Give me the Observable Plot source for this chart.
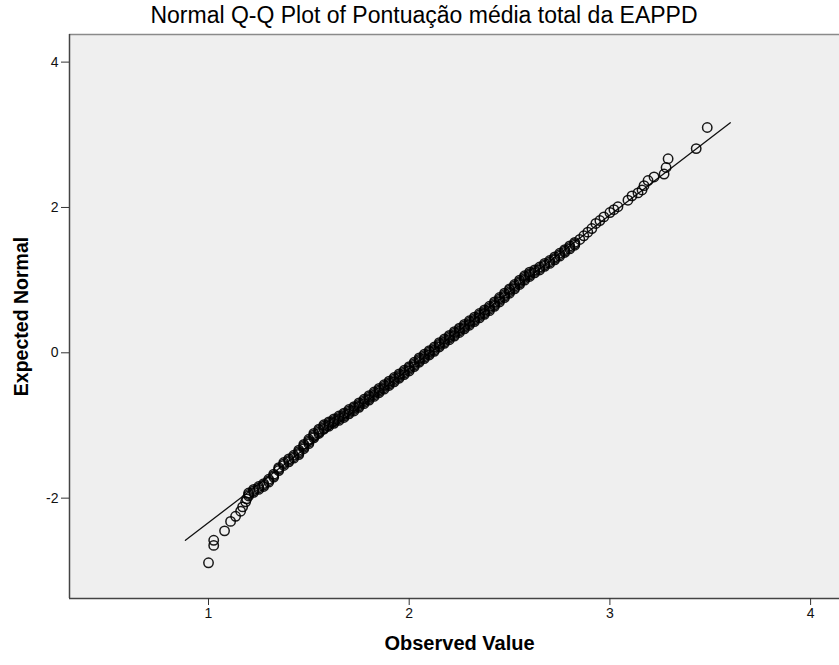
<!DOCTYPE html>
<html>
<head>
<meta charset="utf-8">
<script src="https://cdn.jsdelivr.net/npm/d3@7"></script>
<script src="https://cdn.jsdelivr.net/npm/@observablehq/plot@0.6"></script>
<style>
  body { margin: 0; background: #ffffff; font-family: "Liberation Sans", Arial, sans-serif; }
  #title { width: 839px; height: 28px; padding-top: 1px; line-height: 28px; font-size: 23px; text-align: center; color: #000; text-indent: 9px; }
</style>
</head>
<body>
<div id="title">Normal Q-Q Plot of Pontuação média total da EAPPD</div>
<div id="chart"></div>
<script>
// Distinct observed values (mean EAPPD score) ...
const observedValues = [
  1.000, 1.026, 1.080, 1.110, 1.135, 1.160, 1.170, 1.185, 1.190,
  1.200, 1.225, 1.250, 1.275, 1.300, 1.325, 1.350, 1.375, 1.400, 1.425,
  1.450, 1.475, 1.500, 1.525, 1.550, 1.575, 1.600, 1.625, 1.650, 1.675,
  1.700, 1.725, 1.750, 1.775, 1.800, 1.825, 1.850, 1.875, 1.900, 1.925,
  1.950, 1.975, 2.000, 2.025, 2.050, 2.075, 2.100, 2.125, 2.150, 2.175,
  2.200, 2.225, 2.250, 2.275, 2.300, 2.325, 2.350, 2.375, 2.400, 2.425,
  2.450, 2.475, 2.500, 2.525, 2.550, 2.575, 2.600,
  2.625, 2.650, 2.675, 2.700, 2.725, 2.750, 2.775, 2.800, 2.825,
  2.850, 2.870, 2.890, 2.910, 2.930, 2.950, 2.970, 3.000, 3.020, 3.040,
  3.090, 3.110, 3.140, 3.160, 3.170, 3.190, 3.220, 3.270, 3.280, 3.290, 3.430, 3.485
];
// ... and the expected normal scores of the cases sharing each value
const expectedScores = [
  [-2.89], [-2.65, -2.58], [-2.45], [-2.32], [-2.25], [-2.18], [-2.12], [-2.05], [-2.01],
  [-1.97, -1.95, -1.93], [-1.92, -1.90, -1.88], [-1.88, -1.86, -1.84], [-1.84, -1.82, -1.80],
  [-1.78, -1.76, -1.74], [-1.71, -1.69, -1.67], [-1.62, -1.60, -1.58], [-1.55, -1.53, -1.51],
  [-1.50, -1.48, -1.46], [-1.45, -1.43, -1.41],
  [-1.40, -1.38, -1.36, -1.34], [-1.32, -1.30, -1.28, -1.26], [-1.25, -1.23, -1.21, -1.19],
  [-1.17, -1.15, -1.13, -1.11], [-1.11, -1.09, -1.07, -1.05], [-1.05, -1.03, -1.01, -0.99],
  [-1.01, -0.99, -0.97, -0.95], [-0.97, -0.95, -0.93, -0.91], [-0.93, -0.91, -0.89, -0.87],
  [-0.89, -0.87, -0.85, -0.83], [-0.84, -0.82, -0.80, -0.78], [-0.80, -0.78, -0.76, -0.74],
  [-0.75, -0.73, -0.71, -0.69], [-0.70, -0.68, -0.66, -0.64], [-0.65, -0.63, -0.61, -0.59],
  [-0.60, -0.58, -0.56, -0.54], [-0.55, -0.53, -0.51, -0.49], [-0.50, -0.48, -0.46, -0.44],
  [-0.45, -0.43, -0.41, -0.39], [-0.40, -0.38, -0.36, -0.34], [-0.35, -0.33, -0.31, -0.29],
  [-0.30, -0.28, -0.26, -0.24], [-0.25, -0.23, -0.21, -0.19], [-0.19, -0.17, -0.15, -0.13],
  [-0.13, -0.11, -0.09, -0.07], [-0.08, -0.06, -0.04, -0.02], [-0.03, -0.01, 0.01, 0.03],
  [0.02, 0.04, 0.06, 0.08], [0.08, 0.10, 0.12, 0.14], [0.13, 0.15, 0.17, 0.19],
  [0.18, 0.20, 0.22, 0.24], [0.23, 0.25, 0.27, 0.29], [0.28, 0.30, 0.32, 0.34],
  [0.33, 0.35, 0.37, 0.39], [0.38, 0.40, 0.42, 0.44], [0.43, 0.45, 0.47, 0.49],
  [0.48, 0.50, 0.52, 0.54], [0.53, 0.55, 0.57, 0.59], [0.58, 0.60, 0.62, 0.64],
  [0.64, 0.66, 0.68, 0.70], [0.70, 0.72, 0.74, 0.76], [0.76, 0.78, 0.80, 0.82],
  [0.82, 0.84, 0.86, 0.88], [0.88, 0.90, 0.92, 0.94], [0.94, 0.96, 0.98, 1.00],
  [1.00, 1.02, 1.04, 1.06], [1.05, 1.07, 1.09, 1.11],
  [1.10, 1.12, 1.14], [1.14, 1.16, 1.18], [1.19, 1.21, 1.23], [1.23, 1.25, 1.27],
  [1.28, 1.30, 1.32], [1.33, 1.35, 1.37], [1.38, 1.40, 1.42], [1.43, 1.45, 1.47], [1.48, 1.50, 1.52],
  [1.56], [1.61], [1.66], [1.71], [1.78], [1.82], [1.87], [1.93], [1.97], [2.01],
  [2.10], [2.16], [2.20], [2.24], [2.30], [2.37], [2.42], [2.46], [2.55], [2.67], [2.81], [3.10]
];

// Reference line of the fitted normal distribution
const lineObserved = [0.885, 3.60];
const lineExpected = [-2.58, 3.165];

// Axis ticks and domains
const xTicks = [1, 2, 3, 4];
const yTicks = [-2, 0, 2, 4];
const xDomain = [0.3074, 4.144];
const yDomain = [-3.381, 4.380];

const points = observedValues.flatMap((x, i) => expectedScores[i].map(y => ({x, y})));
const refLine = lineObserved.map((x, i) => ({x, y: lineExpected[i]}));

const font = "Liberation Sans, Arial, sans-serif";

const chart = Plot.plot({
  width: 839,
  height: 636,
  marginLeft: 69,
  marginRight: 0,
  marginTop: 5,
  marginBottom: 67,
  style: {fontFamily: font, fontSize: "14px", color: "#111", background: "#ffffff"},
  x: {domain: xDomain},
  y: {domain: yDomain},
  marks: [
    Plot.frame({fill: "#efefef", stroke: "none"}),
    Plot.ruleY([yDomain[1]], {stroke: "#8a8a8a", strokeWidth: 1.5}),
    Plot.ruleX([xDomain[0]], {stroke: "#444", strokeWidth: 1.5}),
    Plot.ruleY([yDomain[0]], {stroke: "#444", strokeWidth: 1.5}),
    Plot.axisX({ticks: xTicks, tickFormat: d => String(d), tickSize: 7, tickPadding: 3, label: null, stroke: "#333", fontSize: 14}),
    Plot.axisY({ticks: yTicks, tickFormat: d => String(d), tickSize: 8, tickPadding: 3, label: null, stroke: "#333", fontSize: 14}),
    Plot.line(refLine, {x: "x", y: "y", stroke: "#111", strokeWidth: 1.3}),
    Plot.dot(points, {x: "x", y: "y", r: 4.7, stroke: "#000", strokeWidth: 1.5, strokeOpacity: 0.9, fill: "none"}),
    Plot.text(["Expected Normal"], {text: d => d, frameAnchor: "left", textAnchor: "middle", lineAnchor: "middle", dx: -48, rotate: -90, fontWeight: "bold", fontSize: 19.5, fill: "#000"}),
    Plot.text(["Observed Value"], {text: d => d, frameAnchor: "bottom", textAnchor: "middle", lineAnchor: "middle", dx: 5, dy: 45, fontWeight: "bold", fontSize: 20, fill: "#000"})
  ]
});

document.getElementById("chart").appendChild(chart);
</script>
</body>
</html>
